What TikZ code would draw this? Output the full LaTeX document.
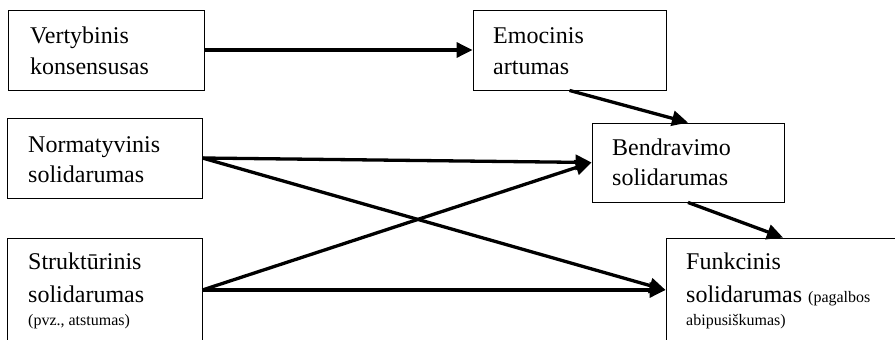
\documentclass[tikz,border=0pt]{standalone}
\usepackage{fontspec}
\setmainfont{Liberation Serif}
\usetikzlibrary{arrows.meta}
\tikzset{
  box/.style={draw, line width=0.9pt, rectangle, inner sep=0pt},
  txt/.style={anchor=base west, inner sep=0pt, font=\fontsize{24}{28}\selectfont},
  smalltxt/.style={anchor=base west, inner sep=0pt, font=\fontsize{16}{20}\selectfont},
  conn/.style={line width=3.3pt, -{Triangle[length=16pt,width=15pt]}}
}
\newcommand\smallfnt{\fontsize{16}{20}\selectfont}
\begin{document}
\begin{tikzpicture}[x=1pt,y=-1pt]
\useasboundingbox (0,0) rectangle (895,340);
% boxes
\node[box, minimum width=195.5pt, minimum height=80pt] (vert) at (106.25,50) {};
\node[box, minimum width=195pt, minimum height=80pt] (norm) at (104.5,158) {};
\node[box, minimum width=195pt, minimum height=104pt] (str) at (104.5,290) {};
\node[box, minimum width=193pt, minimum height=80pt] (emo) at (569.5,50) {};
\node[box, minimum width=192pt, minimum height=79pt] (bend) at (688,162.5) {};
\node[box, minimum width=234pt, minimum height=104pt] (funk) at (783,290) {};
% texts
\node[txt] (t1a) at (30,43) {Vertybinis};
\node[txt] (t1b) at (30,74) {konsensusas};
\node[txt] (t2a) at (28,152) {Normatyvinis};
\node[txt] (t2b) at (28,182) {solidarumas};
\node[txt] (t3a) at (28,269) {Struktūrinis};
\node[txt] (t3b) at (28,302) {solidarumas};
\node[smalltxt] (t3c) at (28,325) {(pvz., atstumas)};
\node[txt] (t4a) at (493,43) {Emocinis};
\node[txt] (t4b) at (493,74) {artumas};
\node[txt] (t5a) at (612,155) {Bendravimo};
\node[txt] (t5b) at (612,185) {solidarumas};
\node[txt] (t6a) at (686,269) {Funkcinis};
\node[txt] (t6b) at (686,302) {solidarumas {\smallfnt (pagalbos}};
\node[smalltxt] (t6c) at (686,325) {abipusiškumas)};
% connectors
\draw[conn] (vert.east) -- (emo.west);
\draw[conn] (emo.south) -- (bend.north);
\draw[conn] (norm.east) -- (bend.west);
\draw[conn] (norm.east) -- (funk.west);
\draw[conn] (str.east) -- (bend.west);
\draw[conn] (str.east) -- (funk.west);
\draw[conn] (bend.south) -- (funk.north);
\end{tikzpicture}
\end{document}
